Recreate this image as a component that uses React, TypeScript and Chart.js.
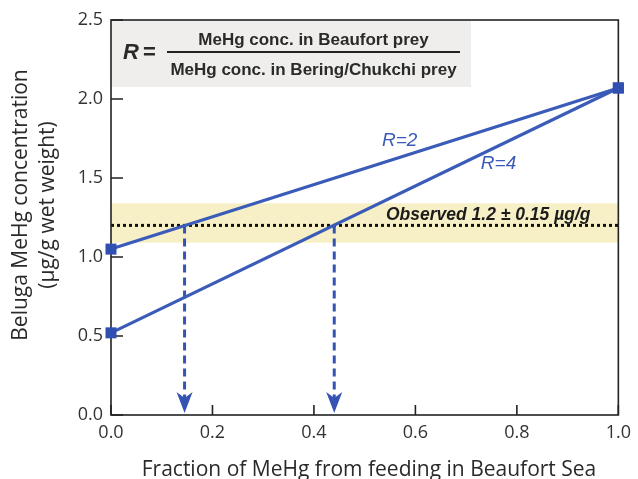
import React, { useEffect, useRef } from "react";
import { Chart, registerables } from "chart.js";

Chart.register(...registerables);

// ---- data ----
const xTicks = [0, 0.2, 0.4, 0.6, 0.8, 1.0];
const yTicks = [0, 0.5, 1.0, 1.5, 2.0, 2.5];
const fraction = [0, 1];
const r2Values = [1.05, 2.07];
const r4Values = [0.52, 2.07];
const observed = 1.2;
const bandLow = 1.09;
const bandHigh = 1.34;
const arrowX = [0.145, 0.44];
const lineLabels = ["R=2", "R=4"];

const BLUE = "#3a5bb8";
const MARK = "#2f4fb2";
const ARROW = "#3553b3";
const TEXT = "#2a2a2a";

const decoPlugin = {
  id: "deco",
  beforeDatasetsDraw(chart: any) {
    const { ctx, chartArea: a } = chart;
    ctx.save();
    ctx.fillStyle = "#efeeec";
    ctx.fillRect(a.left, a.top, 360, 67);
    ctx.restore();
  },
  afterDatasetsDraw(chart: any) {
    const { ctx, chartArea: a, scales } = chart;
    const xs = scales.x;
    const ys = scales.y;
    ctx.save();
    // arrowheads
    ctx.fillStyle = ARROW;
    arrowX.forEach((v) => {
      const cx = xs.getPixelForValue(v);
      const tip = ys.getPixelForValue(0) - 2;
      ctx.beginPath();
      ctx.moveTo(cx, tip);
      ctx.lineTo(cx - 8, tip - 21);
      ctx.lineTo(cx, tip - 15);
      ctx.lineTo(cx + 8, tip - 21);
      ctx.closePath();
      ctx.fill();
    });
    // frame
    ctx.strokeStyle = "#222";
    ctx.lineWidth = 1.6;
    ctx.strokeRect(a.left, a.top, a.right - a.left, a.bottom - a.top);
    // inward ticks
    ctx.beginPath();
    yTicks.forEach((v) => {
      const y = ys.getPixelForValue(v);
      ctx.moveTo(a.left, y);
      ctx.lineTo(a.left + 12, y);
    });
    xTicks.forEach((v) => {
      const x = xs.getPixelForValue(v);
      ctx.moveTo(x, a.bottom);
      ctx.lineTo(x, a.bottom - 10);
    });
    ctx.stroke();

    // markers on top of frame
    chart.data.datasets.forEach((ds: any, di: number) => {
      if (!ds.isCurve) return;
      const meta = chart.getDatasetMeta(di);
      ctx.fillStyle = MARK;
      meta.data.forEach((p: any) => {
        ctx.fillRect(p.x - 5.5, p.y - 5.5, 11, 11);
      });
    });

    // formula
    ctx.fillStyle = TEXT;
    ctx.textBaseline = "alphabetic";
    ctx.textAlign = "left";
    ctx.font = "italic bold 22px 'Liberation Sans'";
    ctx.fillText("R", a.left + 12, 59);
    ctx.font = "bold 22px 'Liberation Sans'";
    ctx.fillText("=", a.left + 32, 59);
    ctx.font = "bold 17px 'Liberation Sans'";
    ctx.textAlign = "center";
    ctx.fillText("MeHg conc. in Beaufort prey", 313.5, 45);
    ctx.fillText("MeHg conc. in Bering/Chukchi prey", 313.5, 75);
    ctx.lineWidth = 2;
    ctx.beginPath();
    ctx.moveTo(167, 52);
    ctx.lineTo(460, 52);
    ctx.stroke();

    // line labels
    ctx.textAlign = "left";
    ctx.fillStyle = BLUE;
    ctx.font = "italic 19px 'Liberation Sans'";
    ctx.fillText(lineLabels[0], xs.getPixelForValue(0.534), ys.getPixelForValue(1.70));
    ctx.fillText(lineLabels[1], xs.getPixelForValue(0.729), ys.getPixelForValue(1.555));

    // observed label
    ctx.fillStyle = "#1c1c1c";
    ctx.font = "italic bold 17.5px 'Liberation Sans'";
    ctx.fillText("Observed 1.2 \u00b1 0.15 \u00b5g/g", xs.getPixelForValue(0.542), ys.getPixelForValue(1.234));

    // axis titles
    ctx.fillStyle = TEXT;
    ctx.font = "21px 'Open Sans'";
    ctx.textAlign = "center";
    ctx.textBaseline = "alphabetic";
    ctx.fillText("Fraction of MeHg from feeding in Beaufort Sea", 369, 476);
    ctx.translate(0, 205);
    ctx.rotate(-Math.PI / 2);
    ctx.textBaseline = "middle";
    ctx.fillText("Beluga MeHg concentration", 0, 21);
    ctx.fillText("(\u00b5g/g wet weight)", 0, 48);
    ctx.restore();
  },
};

export default function App() {
  const ref = useRef<HTMLCanvasElement | null>(null);
  useEffect(() => {
    if (!ref.current) return;
    const pts = (ys: number[]) => fraction.map((x, i) => ({ x, y: ys[i] }));
    const chart = new Chart(ref.current, {
      type: "scatter",
      data: {
        datasets: [
          {
            label: "R=2",
            data: pts(r2Values),
            isCurve: true,
            showLine: true,
            borderColor: BLUE,
            borderWidth: 3.2,
            pointRadius: 0,
            clip: false,
            order: 0,
          },
          {
            label: "R=4",
            data: pts(r4Values),
            isCurve: true,
            showLine: true,
            borderColor: BLUE,
            borderWidth: 3.2,
            pointRadius: 0,
            clip: false,
            order: 1,
          },
          ...arrowX.map((x, i) => ({
            label: "arrow" + i,
            data: [
              { x, y: observed },
              { x, y: 0.08 },
            ],
            showLine: true,
            borderColor: ARROW,
            borderWidth: 3,
            borderDash: [8, 5],
            pointRadius: 0,
            order: 2,
          })),
          {
            label: "observed",
            data: fraction.map((x) => ({ x, y: observed })),
            showLine: true,
            borderColor: "#111",
            borderWidth: 3,
            borderDash: [3, 3],
            pointRadius: 0,
            order: 3,
          },
          {
            label: "band",
            data: fraction.map((x) => ({ x, y: bandHigh })),
            showLine: true,
            borderWidth: 0,
            borderColor: "rgba(0,0,0,0)",
            backgroundColor: "#f7f0c6",
            fill: { value: bandLow },
            pointRadius: 0,
            order: 4,
          },
        ] as any,
      },
      options: {
        animation: false,
        responsive: false,
        layout: { padding: { top: 20, right: 14, left: 0, bottom: 0 } },
        plugins: { legend: { display: false }, tooltip: { enabled: false } },
        scales: {
          x: {
            type: "linear",
            min: 0,
            max: 1,
            grid: { display: false, drawTicks: false },
            border: { display: false },
            afterBuildTicks: (s: any) => {
              s.ticks = xTicks.map((v) => ({ value: v }));
            },
            afterFit: (s: any) => {
              s.height = 64;
            },
            ticks: {
              padding: 7,
              color: "#333",
              font: { family: "'Open Sans'", size: 18 },
              callback: (v: any) => Number(v).toFixed(1),
            },
          },
          y: {
            type: "linear",
            min: 0,
            max: 2.5,
            grid: { display: false, drawTicks: false },
            border: { display: false },
            afterBuildTicks: (s: any) => {
              s.ticks = yTicks.map((v) => ({ value: v }));
            },
            afterFit: (s: any) => {
              s.width = 111;
            },
            ticks: {
              padding: 8,
              color: "#333",
              font: { family: "'Open Sans'", size: 18 },
              callback: (v: any) => Number(v).toFixed(1),
            },
          },
        },
      },
      plugins: [decoPlugin],
    });
    return () => chart.destroy();
  }, []);
  return (
    <div style={{ position: "absolute", left: 0, top: 0, width: 638, height: 479 }}>
      <canvas ref={ref} width={638} height={479} />
    </div>
  );
}
